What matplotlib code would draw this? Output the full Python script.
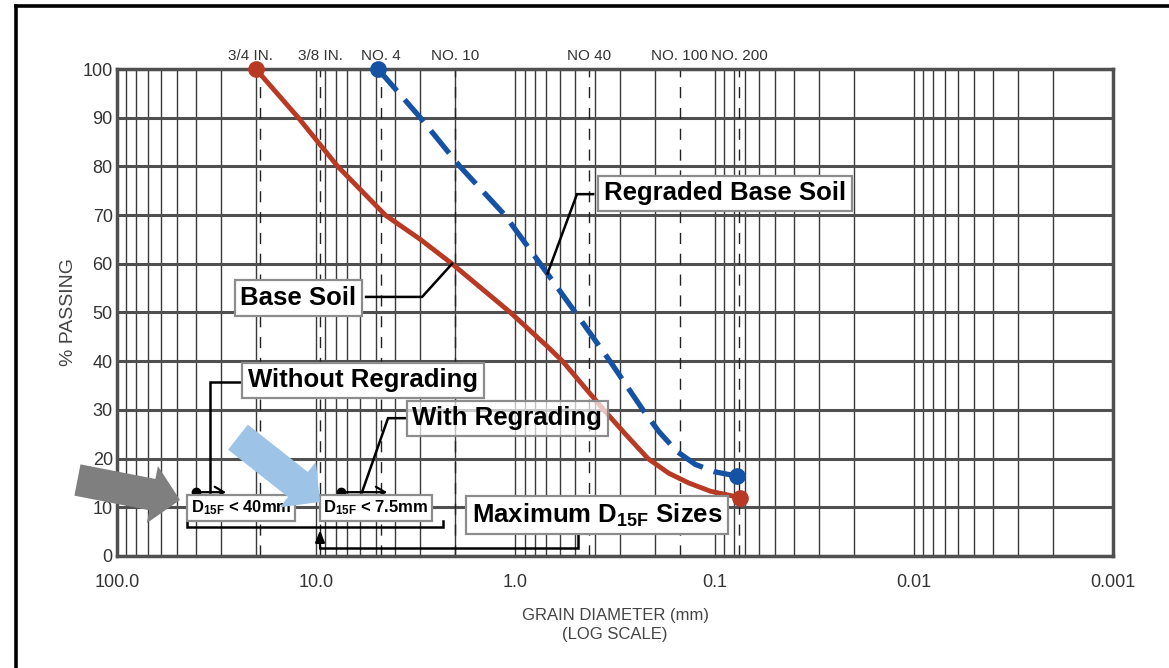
import matplotlib
matplotlib.use("Agg")
import matplotlib.pyplot as plt
from matplotlib.lines import Line2D
from matplotlib.ticker import FixedLocator, FixedFormatter, LogLocator, NullFormatter

plt.rcParams["font.family"] = ["Liberation Sans", "DejaVu Sans"]
plt.rcParams["mathtext.fontset"] = "custom"
plt.rcParams["mathtext.rm"] = "Liberation Sans"
plt.rcParams["mathtext.bf"] = "Liberation Sans:bold"

# US standard sieves marked along the top (opening in mm)
sieve_names = ["3/4 IN.", "3/8 IN.", "NO. 4", "NO. 10", "NO 40", "NO. 100", "NO. 200"]
sieve_mm = [19.05, 9.525, 4.75, 2.0, 0.425, 0.15, 0.075]

# gradation curves: grain size (mm) vs percent passing
base_mm = [20.1, 12.3, 7.8, 4.5, 3.0, 2.08, 1.06, 0.69, 0.58, 0.36, 0.28, 0.216, 0.17, 0.135, 0.105, 0.0746]
base_pct = [100, 90, 80, 70, 65, 60, 50, 43, 40, 30, 25, 20, 17, 15, 13.3, 12]

regraded_mm = [4.9, 3.0, 1.9, 1.13, 0.75, 0.50, 0.335, 0.229, 0.19, 0.155, 0.125, 0.1, 0.0772]
regraded_pct = [100, 90, 80, 70, 60, 50, 40, 30, 25.5, 21.5, 18.8, 17.3, 16.4]

tick_mm = [100, 10, 1, 0.1, 0.01, 0.001]
tick_labels = ["100.0", "10.0", "1.0", "0.1", "0.01", "0.001"]
pct_ticks = list(range(0, 101, 10))

# maximum D15F sizes
d15f_without = 40.0
d15f_with = 7.5

RED = "#B83A25"
BLUE = "#1552A3"
GRID = "#3a3a3a"
TXT = "#333333"

fig = plt.figure(figsize=(11.69, 6.68), dpi=100)
ax = fig.add_axes([0.1001, 0.1677, 0.852, 0.729])

ax.set_xscale("log")
ax.set_xlim(100, 0.001)
ax.set_ylim(0, 100)

ax.xaxis.set_major_locator(FixedLocator(tick_mm))
ax.xaxis.set_major_formatter(FixedFormatter(tick_labels))
ax.xaxis.set_minor_locator(LogLocator(base=10, subs=range(2, 10)))
ax.xaxis.set_minor_formatter(NullFormatter())
ax.set_yticks(pct_ticks)

ax.tick_params(axis="both", which="both", length=0, labelsize=13, colors=TXT)
ax.tick_params(axis="x", pad=13)
ax.tick_params(axis="y", pad=3)

ax.set_axisbelow(True)
ax.grid(axis="x", which="both", color=GRID, lw=1.0)
ax.grid(axis="y", which="major", color="#505050", lw=2.2)
for sp in ax.spines.values():
    sp.set_color("#505050")
    sp.set_linewidth(2.5)

ax.set_ylabel("% PASSING", fontsize=14, color="#444444", labelpad=4)
ax.set_xlabel("GRAIN DIAMETER (mm)\n(LOG SCALE)", fontsize=12, color="#444444", labelpad=12,
              linespacing=1.35)

# dashed sieve lines and their names above the frame
label_shift = {"3/4 IN.": -7}
for name, mm in zip(sieve_names, sieve_mm):
    ax.axvline(mm, color="#222222", lw=1.0, ls=(0, (8, 7)), zorder=1)
    ax.annotate(name, xy=(mm, 1.0), xycoords=("data", "axes fraction"),
                xytext=(label_shift.get(name, 0), 4), textcoords="offset points",
                ha="center", va="bottom", fontsize=11, color=TXT)

# gradation curves
ax.plot(base_mm, base_pct, color=RED, lw=3.5, solid_capstyle="round", solid_joinstyle="round", zorder=3)
ax.plot([base_mm[0], base_mm[-1]], [base_pct[0], base_pct[-1]], "o", color=RED, ms=11,
        zorder=3, clip_on=False)
ax.plot(regraded_mm, regraded_pct, color=BLUE, lw=3.8, ls=(0, (5.5, 2.2)), zorder=3)
ax.plot([regraded_mm[0], regraded_mm[-1]], [regraded_pct[0], regraded_pct[-1]], "o", color=BLUE, ms=11,
        zorder=3, clip_on=False)


def box(alpha=1.0):
    return dict(boxstyle="square,pad=0.22", fc=(1, 1, 1, alpha), ec="#8c8c8c", lw=1.6)


def leader(xs, ys):
    ax.plot(xs, ys, color="black", lw=1.8, zorder=3.5, clip_on=False,
            solid_joinstyle="miter")


big = dict(fontsize=18.5, fontweight="bold", ha="center", va="center", zorder=4)

# callouts
ax.text(0.0887, 74.5, "Regraded Base Soil", bbox=box(), **big)
leader([0.407, 0.491, 0.69], [74.3, 74.3, 58])

ax.text(12.3, 53.0, "Base Soil", bbox=box(), **big)
leader([5.62, 2.94, 2.08], [53.2, 53.2, 60])

ax.text(5.82, 36.1, "Without Regrading", bbox=box(), **big)
leader([23.3, 34.1, 34.1], [35.7, 35.7, 13.1])

ax.text(1.10, 28.3, "With Regrading", bbox=box(0.7), **big)
leader([3.54, 4.36, 5.89], [28.3, 28.3, 13.1])

# D15F markers with arrows pointing to the finer side
for d in (d15f_without, d15f_with):
    ax.plot([d], [13.1], "o", color="black", ms=6, zorder=4)
thin_arrow = dict(arrowstyle="->,head_length=0.5,head_width=0.3", lw=1.6, color="black",
                  shrinkA=0, shrinkB=0, mutation_scale=13)
ax.annotate("", xy=(28.4, 13.1), xytext=(d15f_without, 13.1), arrowprops=thin_arrow, zorder=4)
ax.annotate("", xy=(4.41, 13.1), xytext=(d15f_with, 13.1), arrowprops=thin_arrow, zorder=4)

small = dict(fontsize=12, fontweight="bold", ha="center", va="center", zorder=4)
ax.text(23.9, 9.9, r"$\mathbf{D_{15F}}$ < %gmm" % d15f_without, bbox=box(), **small)
ax.text(5.01, 9.9, r"$\mathbf{D_{15F}}$ < %gmm" % d15f_with, bbox=box(), **small)

# bracket grouping both limits, tied to the summary label
leader([44.5, 44.5, 2.31, 2.31], [7.2, 6.0, 6.0, 7.2])
leader([0.485, 0.485, 9.57], [5.3, 1.6, 1.6])
ax.annotate("", xy=(9.57, 5.3), xytext=(9.57, 1.6),
            arrowprops=dict(arrowstyle="-|>,head_length=0.7,head_width=0.28", lw=1.6, color="black",
                            shrinkA=0, shrinkB=0, mutation_scale=10), zorder=4)
ax.text(0.389, 8.4, r"Maximum $\mathbf{D_{15F}}$ Sizes", bbox=box(), **big)

# pointer arrows
block = "simple,head_length=1.5,head_width=3.1,tail_width=1.7"
ax.annotate("", xy=(48.3, 11.5), xytext=(158, 15.6), annotation_clip=False,
            arrowprops=dict(arrowstyle=block, mutation_scale=13.5, fc="#7f7f7f", ec="none",
                            shrinkA=0, shrinkB=0),
            zorder=5)
ax.annotate("", xy=(9.57, 11.1), xytext=(24.7, 24.4), annotation_clip=False,
            arrowprops=dict(arrowstyle=block, mutation_scale=13.5, fc="#9dc3e6", ec="none",
                            shrinkA=0, shrinkB=0),
            zorder=5)

# page frame
fig.add_artist(Line2D([0.0137, 0.0137], [0.0, 0.991], color="black", lw=2.6, transform=fig.transFigure))
fig.add_artist(Line2D([0.0137, 1.0], [0.991, 0.991], color="black", lw=2.6, transform=fig.transFigure))

fig.savefig("out.png", dpi=100)
